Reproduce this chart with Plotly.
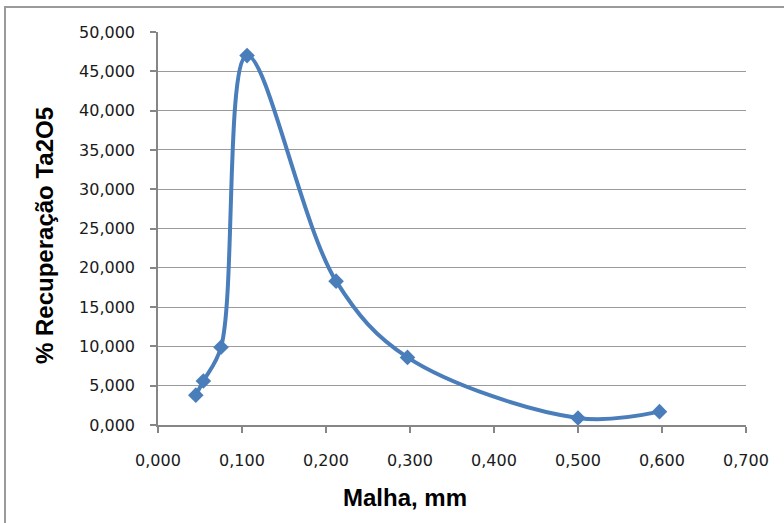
import plotly.graph_objects as go

malha = [0.045, 0.054, 0.075, 0.106, 0.212, 0.297, 0.500, 0.597]
recuperacao = [3.8, 5.6, 9.9, 47.0, 18.3, 8.6, 0.9, 1.7]
x_ticks = [0.0, 0.1, 0.2, 0.3, 0.4, 0.5, 0.6, 0.7]
y_ticks = [0, 5, 10, 15, 20, 25, 30, 35, 40, 45, 50]

L, R, T, B = 158, 746, 32, 425
W, H = 784, 523
PW, PH = R - L, B - T

fig = go.Figure()
fig.add_trace(go.Scatter(
    x=malha, y=recuperacao, mode="lines+markers",
    line=dict(color="#4a7ebb", width=4, shape="spline", smoothing=1.0),
    marker=dict(symbol="diamond", size=12, color="#4a7ebb"),
    showlegend=False,
))

tickfont = dict(family="DejaVu Sans", size=16, color="#1a1a1a")
titlefont = dict(family="Liberation Sans", size=24, color="black", weight="bold")
fig.update_layout(
    width=W, height=H,
    margin=dict(l=L, r=W - R, t=T, b=H - B),
    paper_bgcolor="white", plot_bgcolor="white",
    separators=",.",
    xaxis=dict(
        range=[0, 0.7], tickvals=x_ticks, tickformat=".3f",
        showgrid=False, zeroline=False,
        showline=True, linecolor="#868686", linewidth=1.5,
        ticks="outside", ticklen=6, tickcolor="#868686", tickwidth=1.5,
        tickfont=tickfont, ticklabelstandoff=14,
    ),
    yaxis=dict(
        range=[0, 50], tickvals=y_ticks, tickformat=".3f",
        showgrid=True, gridcolor="#9a9a9a", gridwidth=1.2, zeroline=False,
        showline=True, linecolor="#868686", linewidth=1.5,
        ticks="outside", ticklen=6, tickcolor="#868686", tickwidth=1.5,
        tickfont=tickfont, ticklabelstandoff=12,
    ),
    annotations=[
        dict(text="Malha, mm", xref="paper", yref="paper",
             x=(405 - L) / PW, y=(B - 497) / PH, xanchor="center", yanchor="middle",
             showarrow=False, font=titlefont),
        dict(text="% Recuperação Ta2O5", xref="paper", yref="paper",
             x=(44 - L) / PW, y=(B - 236) / PH, xanchor="center", yanchor="middle",
             textangle=-90, showarrow=False, font=titlefont),
    ],
    shapes=[dict(
        type="rect", xref="paper", yref="paper",
        x0=(5 - L) / PW, x1=1.2,
        y0=-0.4, y1=(B - 7) / PH,
        line=dict(color="#9a9a9a", width=2), fillcolor="rgba(0,0,0,0)", layer="below",
    )],
)

fig.write_html("out.html")
